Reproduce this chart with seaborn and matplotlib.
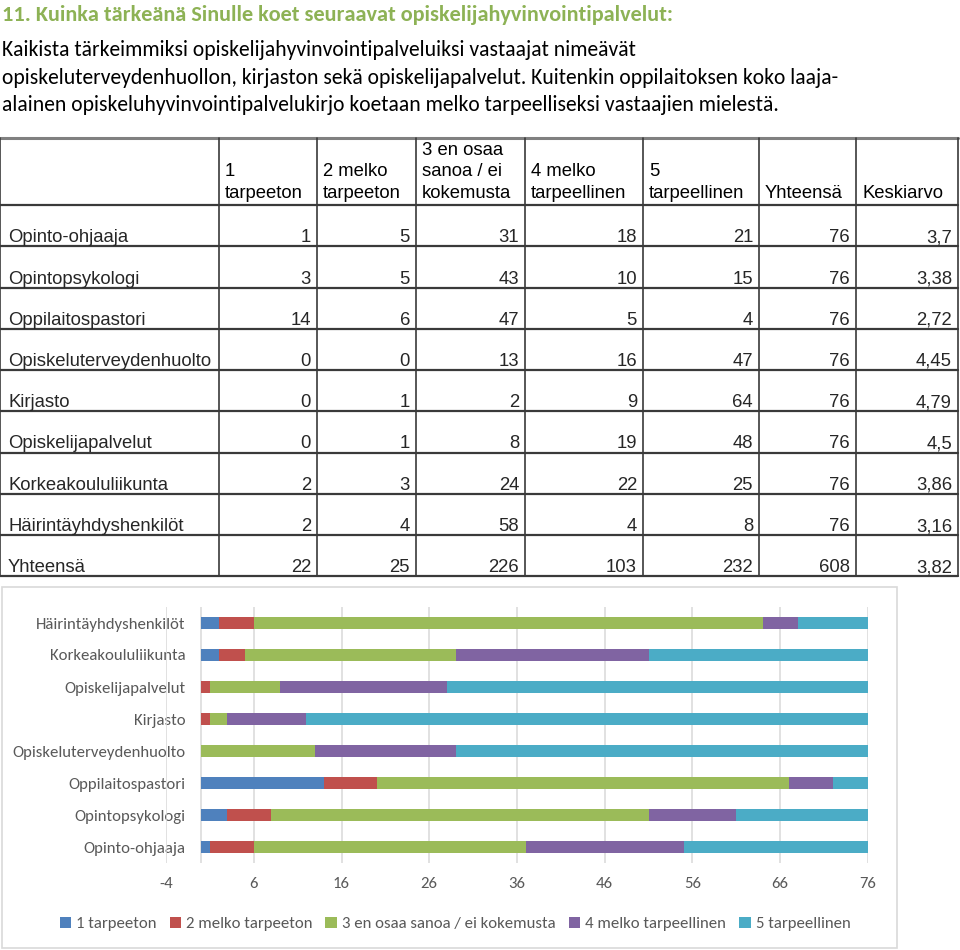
import matplotlib
matplotlib.use("Agg")
import matplotlib.pyplot as plt
import seaborn as sns
import pandas as pd
import numpy as np
from matplotlib.patches import Rectangle, Patch
from matplotlib import font_manager

# ---------------- data ----------------
categories = ["Opinto-ohjaaja", "Opintopsykologi", "Oppilaitospastori",
              "Opiskeluterveydenhuolto", "Kirjasto", "Opiskelijapalvelut",
              "Korkeakoululiikunta", "Häirintäyhdyshenkilöt"]
v1 = [1, 3, 14, 0, 0, 0, 2, 2]
v2 = [5, 5, 6, 0, 1, 1, 3, 4]
v3 = [31, 43, 47, 13, 2, 8, 24, 58]
v4 = [18, 10, 5, 16, 9, 19, 22, 4]
v5 = [21, 15, 4, 47, 64, 48, 25, 8]
totals = [76, 76, 76, 76, 76, 76, 76, 76]
means = ["3,7", "3,38", "2,72", "4,45", "4,79", "4,5", "3,86", "3,16"]
total_row = ["22", "25", "226", "103", "232", "608", "3,82"]
series_names = ["1 tarpeeton", "2 melko tarpeeton", "3 en osaa sanoa / ei kokemusta",
                "4 melko tarpeellinen", "5 tarpeellinen"]
table_headers = ["1\ntarpeeton", "2 melko\ntarpeeton", "3 en osaa\nsanoa / ei\nkokemusta",
                 "4 melko\ntarpeellinen", "5\ntarpeellinen", "Yhteensä", "Keskiarvo"]
xticks = [-4, 6, 16, 26, 36, 46, 56, 66, 76]
colors = ["#4F81BD", "#C0504D", "#9BBB59", "#8064A2", "#4BACC6"]

title = "11. Kuinka tärkeänä Sinulle koet seuraavat opiskelijahyvinvointipalvelut:"
para = ["Kaikista tärkeimmiksi opiskelijahyvinvointipalveluiksi vastaajat nimeävät",
        "opiskeluterveydenhuollon, kirjaston sekä opiskelijapalvelut. Kuitenkin oppilaitoksen koko laaja-",
        "alainen opiskeluhyvinvointipalvelukirjo koetaan melko tarpeelliseksi vastaajien mielestä."]

# ---------------- fonts ----------------
names = {f.name for f in font_manager.fontManager.ttflist}
cal = "Carlito" if "Carlito" in names else "Lato"
arial = "Liberation Sans"

sns.set_theme(style="white")
plt.rcParams["font.family"] = [cal, "DejaVu Sans"]

fig = plt.figure(figsize=(9.6, 9.5), dpi=100)

# overlay axes in pixel coordinates for text and table
ov = fig.add_axes([0, 0, 1, 1])
ov.set_xlim(0, 960)
ov.set_ylim(950, 0)
ov.axis("off")

ov.text(2, 21, title, fontsize=16, fontweight="bold", color="#8DB255",
        family=[cal, "DejaVu Sans"], va="baseline", ha="left")
for i, line in enumerate(para):
    ov.text(2, 56 + i * 27.5, line, fontsize=15.6, color="black",
            family=[cal, "DejaVu Sans"], va="baseline", ha="left")

# ---------------- table ----------------
col_x = [0, 219, 317, 416, 525, 643, 759, 856, 958]
top_y = 138
head_y = 205
row_h = 41.25
n_rows = len(categories) + 1
lc = "#3a3a3a"
tfs = 13.3
ov.plot([0, 958], [top_y, top_y], color="#808080", lw=2.2)
ov.plot([0, 958], [head_y, head_y], color=lc, lw=1.6)
for r in range(n_rows):
    y = head_y + row_h * (r + 1)
    ov.plot([0, 958], [y, y], color=lc, lw=1.6)
for x in col_x:
    ov.plot([x, x], [top_y, head_y + row_h * n_rows], color=lc, lw=1.2)

for j, h in enumerate(table_headers):
    lines = h.split("\n")
    for k, ln in enumerate(reversed(lines)):
        ov.text(col_x[j + 1] + 6, 198 - k * 21.5, ln, fontsize=tfs,
                family=arial, va="baseline", ha="left", color="black")

rows = []
for i, c in enumerate(categories):
    rows.append([c, str(v1[i]), str(v2[i]), str(v3[i]), str(v4[i]), str(v5[i]),
                 str(totals[i]), means[i]])
rows.append(["Yhteensä"] + total_row)
for r, vals in enumerate(rows):
    yb = head_y + row_h * (r + 1) - 4
    ov.text(8, yb, vals[0], fontsize=tfs, family=arial, va="baseline", ha="left")
    for j, v in enumerate(vals[1:]):
        ov.text(col_x[j + 2] - 6, yb, v, fontsize=tfs, family=arial,
                va="baseline", ha="right")

# chart frame
ov.add_patch(Rectangle((2, 587), 895, 361, fill=False, edgecolor="#D9D9D9", lw=1.2))

# ---------------- chart ----------------
order = categories[::-1]
df = pd.DataFrame({"cat": categories})
cum = np.cumsum(np.array([v1, v2, v3, v4, v5]), axis=0)
for k in range(5):
    df[f"c{k}"] = cum[k]

ax = fig.add_axes([166 / 960, 1 - 863 / 950, 702 / 960, 256 / 950])
ax.set_facecolor("none")
for k in reversed(range(5)):
    sns.barplot(data=df, x=f"c{k}", y="cat", order=order, color=colors[k],
                orient="h", width=0.4, saturation=1, linewidth=0, ax=ax, zorder=3)
ax.set_xlim(-4, 76)
ax.set_ylim(7.5, -0.5)
ax.set_xticks(xticks)
ax.set_xticklabels([str(t) for t in xticks])
for t in xticks:
    ax.axvline(t, color="#D9D9D9", lw=1.1, zorder=1)
ax.axvline(0, color="#D9D9D9", lw=1.1, zorder=1)
for s in ax.spines.values():
    s.set_visible(False)
ax.set_xlabel("")
ax.set_ylabel("")
lfs = 12.1
ax.tick_params(axis="y", length=0, pad=-14, labelsize=lfs, labelcolor="#595959")
ax.tick_params(axis="x", length=0, pad=10, labelsize=lfs, labelcolor="#595959")
for lab in ax.get_yticklabels():
    lab.set_zorder(5)

handles = [Patch(facecolor=colors[k], edgecolor="none", label=series_names[k]) for k in range(5)]
fig.legend(handles=handles, loc="center", bbox_to_anchor=(455 / 960, 1 - 924 / 950),
           ncol=5, frameon=False, fontsize=lfs, handlelength=0.7, handleheight=0.7,
           handletextpad=0.3, columnspacing=0.75, labelcolor="#595959")

fig.savefig("out.png", dpi=100)
